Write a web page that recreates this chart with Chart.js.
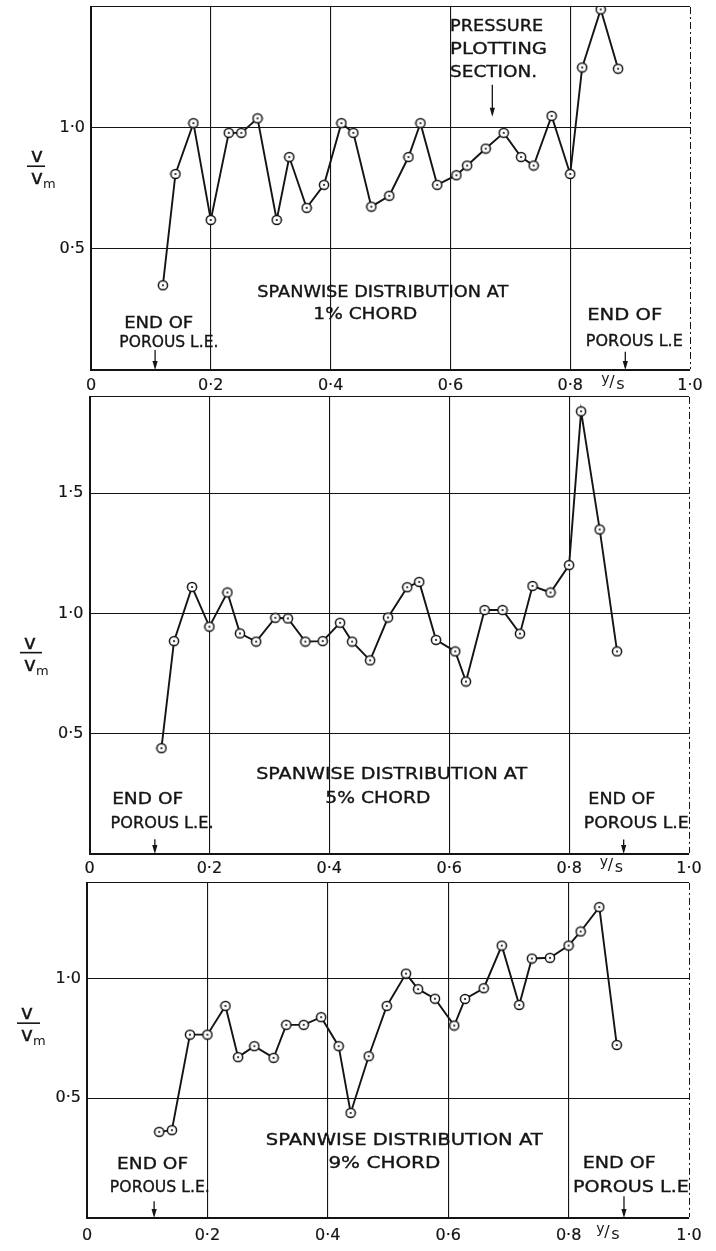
<!DOCTYPE html>
<html>
<head>
<meta charset="utf-8">
<script src="https://cdn.jsdelivr.net/npm/chart.js@4.4.1/dist/chart.umd.min.js"></script>
<style>
  html, body { margin: 0; padding: 0; background: #fff; }
  #wrap { position: relative; width: 716px; height: 1251px; overflow: hidden; background: #fff; }
  #wrap canvas { position: absolute; left: 0; }
</style>
</head>
<body>
<div id="wrap">
  <canvas id="c1" width="716" height="396" style="top:0px"></canvas>
  <canvas id="c2" width="716" height="486" style="top:390px"></canvas>
  <canvas id="c3" width="716" height="375" style="top:876px"></canvas>
</div>
<script>
// Spanwise stations y/s (same pressure holes for every chordwise position)
const stations = [0.12, 0.141, 0.171, 0.2, 0.23, 0.251, 0.278, 0.31, 0.331, 0.36,
  0.389, 0.418, 0.438, 0.468, 0.498, 0.53, 0.55, 0.578, 0.61, 0.628,
  0.659, 0.689, 0.718, 0.739, 0.769, 0.8, 0.82, 0.851, 0.88];

// v/vm at 1% chord
const chord1 = [0.35, 0.81, 1.02, 0.62, 0.98, 0.98, 1.04, 0.62, 0.88, 0.67,
  0.765, 1.02, 0.98, 0.675, 0.72, 0.88, 1.02, 0.765, 0.805, 0.845,
  0.915, 0.98, 0.88, 0.845, 1.05, 0.81, 1.25, 1.49, 1.245];

// v/vm at 5% chord
const chord5 = [0.44, 0.885, 1.11, 0.945, 1.087, 0.917, 0.883, 0.982, 0.979, 0.883,
  0.885, 0.961, 0.883, 0.805, 0.983, 1.109, 1.131, 0.89, 0.842, 0.717,
  1.014, 1.014, 0.916, 1.114, 1.087, 1.201, 1.84, 1.349, 0.842];

// v/vm at 9% chord
const chord9 = [0.36, 0.367, 0.766, 0.766, 0.886, 0.672, 0.718, 0.669, 0.807, 0.807,
  0.839, 0.718, 0.439, 0.676, 0.886, 1.021, 0.956, 0.916, 0.804, 0.915,
  0.96, 1.138, 0.89, 1.084, 1.087, 1.138, 1.197, 1.299, 0.723];

// Axis ticks
const xTicks = [0, 0.2, 0.4, 0.6, 0.8, 1.0];
const xTickLabels = ['0', '0·2', '0·4', '0·6', '0·8', '1·0'];
const yTicks1 = [0, 0.5, 1.0, 1.5];
const yTickLabels1 = ['', '0·5', '1·0', ''];
const yTicks2 = [0, 0.5, 1.0, 1.5, 1.9];
const yTickLabels2 = ['', '0·5', '1·0', '1·5', ''];
const yTicks3 = [0, 0.5, 1.0, 1.4];
const yTickLabels3 = ['', '0·5', '1·0', ''];

const FONT = '"DejaVu Sans", "Liberation Sans", sans-serif';
const INK = '#141414';

// Hollow ring with a centre dot, used for every plotted station
function makeMarker() {
  const c = document.createElement('canvas');
  c.width = 12; c.height = 12;
  const g = c.getContext('2d');
  g.beginPath(); g.arc(6, 6, 4.6, 0, Math.PI * 2);
  g.fillStyle = '#fff'; g.fill();
  g.lineWidth = 1.5; g.strokeStyle = INK; g.stroke();
  g.beginPath(); g.arc(6, 6, 1.1, 0, Math.PI * 2);
  g.fillStyle = INK; g.fill();
  return c;
}
const marker = makeMarker();

// Draws text squeezed/stretched to a given width (lettering is hand-stencilled)
function fitText(ctx, text, x, y, w, align) {
  const m = ctx.measureText(text).width;
  const sx = w ? w / m : 1;
  ctx.save();
  ctx.translate(x, y);
  ctx.scale(sx, 1);
  ctx.textAlign = align || 'center';
  ctx.textBaseline = 'middle';
  ctx.lineWidth = 0.35;
  ctx.strokeText(text, 0, 0);
  ctx.fillText(text, 0, 0);
  ctx.restore();
}

// Notes, arrows and the axis captions of each panel
const notesPlugin = {
  id: 'notes',
  afterDraw(chart) {
    const cfg = chart.options.plugins.notes;
    const ctx = chart.ctx;
    const xs = chart.scales.x, ys = chart.scales.y;
    ctx.save();
    ctx.fillStyle = INK;
    ctx.strokeStyle = INK;
    ctx.font = '16px ' + FONT;
    (cfg.texts || []).forEach(t => {
      const px = xs.getPixelForValue(t.x), py = ys.getPixelForValue(t.y);
      fitText(ctx, t.s, px, py, t.w, t.align);
    });
    (cfg.arrows || []).forEach(a => {
      const px = xs.getPixelForValue(a.x);
      const y0 = ys.getPixelForValue(a.y0), y1 = ys.getPixelForValue(a.y1);
      ctx.lineWidth = 1.3;
      ctx.beginPath(); ctx.moveTo(px, y0); ctx.lineTo(px, y1 - 3); ctx.stroke();
      ctx.beginPath();
      ctx.moveTo(px - 2.6, y1 - 9); ctx.lineTo(px + 2.6, y1 - 9); ctx.lineTo(px, y1);
      ctx.closePath(); ctx.fill();
    });
    // v / v_m caption
    const f = cfg.frac;
    const by = ys.getPixelForValue(f.y);
    ctx.lineWidth = 1.6;
    ctx.beginPath(); ctx.moveTo(f.x0, by); ctx.lineTo(f.x1, by); ctx.stroke();
    ctx.font = '20px ' + FONT;
    ctx.textAlign = 'left';
    ctx.textBaseline = 'alphabetic';
    ctx.lineWidth = 0.4;
    ctx.strokeText('v', f.x0 + 4, by - 4); ctx.fillText('v', f.x0 + 4, by - 4);
    ctx.strokeText('v', f.x0 + 4, by + 18); ctx.fillText('v', f.x0 + 4, by + 18);
    ctx.font = '13px ' + FONT;
    ctx.fillText('m', f.x0 + 16, by + 22);
    // y/s beside the 0·8 label
    const sx = xs.getPixelForValue(cfg.ysAt);
    const sy = chart.chartArea.bottom + cfg.ysDy;
    ctx.textBaseline = 'middle';
    ctx.font = '14px ' + FONT;
    ctx.fillText('y', sx - 12, sy - 4);
    ctx.font = '16px ' + FONT;
    ctx.fillText('/', sx - 4, sy);
    ctx.fillText('s', sx + 3, sy + 2);
    ctx.restore();
  }
};

function makeChart(id, values, yMax, yTicks, yTickLabels, box, notes) {
  return new Chart(document.getElementById(id), {
    type: 'line',
    data: {
      datasets: [{
        data: stations.map((s, i) => ({ x: s, y: values[i] })),
        borderColor: INK,
        borderWidth: 1.9,
        pointStyle: marker,
        pointRadius: 5,
        pointHoverRadius: 5,
        tension: 0,
        fill: false
      }]
    },
    options: {
      responsive: false,
      animation: false,
      devicePixelRatio: 1,
      events: [],
      layout: { padding: { top: box.top, right: box.right, left: 0, bottom: 0 } },
      plugins: { legend: { display: false }, tooltip: { enabled: false }, notes: notes },
      scales: {
        x: {
          type: 'linear', min: 0, max: 1,
          afterBuildTicks: s => { s.ticks = xTicks.map(v => ({ value: v })); },
          afterFit: s => { s.height = box.axisH; s.paddingLeft = 0; s.paddingRight = 0; },
          ticks: {
            callback: (v, i) => xTickLabels[i],
            font: { family: FONT, size: 16 }, color: INK,
            textStrokeColor: INK, textStrokeWidth: 0.2,
            padding: box.tickPad, maxRotation: 0, autoSkip: false
          },
          grid: {
            drawTicks: false,
            color: INK,
            lineWidth: c => (c.tick && c.tick.value === 1 ? 1 : 1.1)
          },
          border: {
            color: INK, width: 2,
            dash: c => (c.tick && c.tick.value === 1 ? [7, 3, 2, 3] : [])
          }
        },
        y: {
          type: 'linear', min: 0, max: yMax,
          afterBuildTicks: s => { s.ticks = yTicks.map(v => ({ value: v })); },
          afterFit: s => { s.width = box.left; s.paddingTop = 0; s.paddingBottom = 0; },
          ticks: {
            callback: (v, i) => yTickLabels[i],
            font: { family: FONT, size: 16 }, color: INK,
            textStrokeColor: INK, textStrokeWidth: 0.2, padding: 6
          },
          grid: { drawTicks: false, color: INK, lineWidth: 1.1 },
          border: { color: INK, width: 2 }
        }
      }
    },
    plugins: [notesPlugin]
  });
}

// 1% chord
makeChart('c1', chord1, 1.5, yTicks1, yTickLabels1,
  { top: 7, right: 26, left: 91, axisH: 26, tickPad: 6 },
  {
    texts: [
      { s: 'SPANWISE DISTRIBUTION AT', x: 0.487, y: 0.317, w: 251 },
      { s: '1% CHORD', x: 0.458, y: 0.229, w: 104 },
      { s: 'END OF', x: 0.113, y: 0.19, w: 69 },
      { s: 'POROUS L.E.', x: 0.13, y: 0.1125, w: 99 },
      { s: 'END OF', x: 0.891, y: 0.225, w: 75 },
      { s: 'POROUS L.E', x: 0.907, y: 0.117, w: 97 },
      { s: 'PRESSURE', x: 0.5995, y: 1.42, w: 93, align: 'left' },
      { s: 'PLOTTING', x: 0.5995, y: 1.325, w: 97, align: 'left' },
      { s: 'SECTION.', x: 0.5995, y: 1.228, w: 87, align: 'left' }
    ],
    arrows: [
      { x: 0.107, y0: 0.083, y1: 0 },
      { x: 0.892, y0: 0.075, y1: 0 },
      { x: 0.67, y0: 1.179, y1: 1.046 }
    ],
    frac: { x0: 27, x1: 45, y: 0.842 },
    ysAt: 0.872, ysDy: 13
  });

// 5% chord
makeChart('c2', chord5, 1.9, yTicks2, yTickLabels2,
  { top: 4, right: 27, left: 89.5, axisH: 22, tickPad: 5 },
  {
    texts: [
      { s: 'SPANWISE DISTRIBUTION AT', x: 0.504, y: 0.327, w: 271 },
      { s: '5% CHORD', x: 0.481, y: 0.231, w: 105 },
      { s: 'END OF', x: 0.097, y: 0.227, w: 71 },
      { s: 'POROUS L.E.', x: 0.121, y: 0.127, w: 103 },
      { s: 'END OF', x: 0.888, y: 0.227, w: 67 },
      { s: 'POROUS L.E', x: 0.912, y: 0.127, w: 105 }
    ],
    arrows: [
      { x: 0.109, y0: 0.061, y1: 0 },
      { x: 0.891, y0: 0.06, y1: 0 }
    ],
    frac: { x0: 20, x1: 42, y: 0.837 },
    ysAt: 0.871, ysDy: 12
  });

// 9% chord
makeChart('c3', chord9, 1.4, yTicks3, yTickLabels3,
  { top: 3, right: 27, left: 87, axisH: 33, tickPad: 8 },
  {
    texts: [
      { s: 'SPANWISE DISTRIBUTION AT', x: 0.527, y: 0.322, w: 277 },
      { s: '9% CHORD', x: 0.494, y: 0.227, w: 112 },
      { s: 'END OF', x: 0.109, y: 0.223, w: 71 },
      { s: 'POROUS L.E.', x: 0.121, y: 0.124, w: 100 },
      { s: 'END OF', x: 0.884, y: 0.227, w: 73 },
      { s: 'POROUS L.E', x: 0.9035, y: 0.128, w: 116 }
    ],
    arrows: [
      { x: 0.1115, y0: 0.07, y1: 0 },
      { x: 0.892, y0: 0.091, y1: 0 }
    ],
    frac: { x0: 17, x1: 40, y: 0.814 },
    ysAt: 0.866, ysDy: 15
  });
</script>
</body>
</html>
